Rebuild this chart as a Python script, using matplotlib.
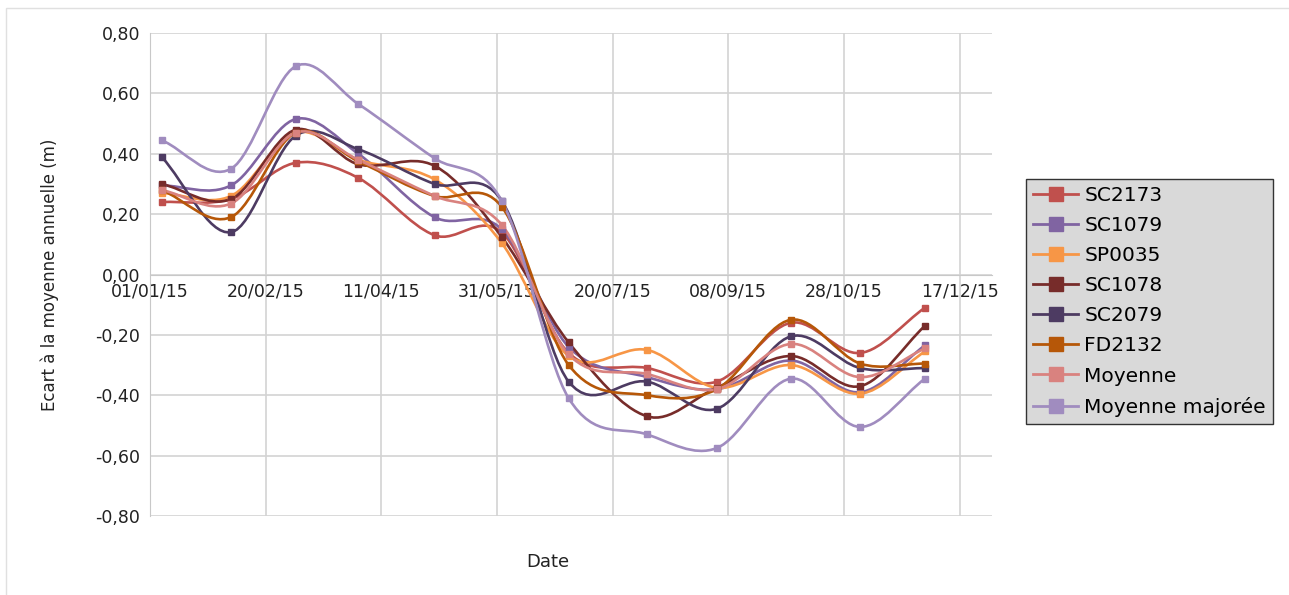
import numpy as np
import matplotlib
matplotlib.use("Agg")
import matplotlib.pyplot as plt
import matplotlib.dates as mdates
from matplotlib.path import Path
from matplotlib.patches import PathPatch, Rectangle
from matplotlib.lines import Line2D
from matplotlib.ticker import FuncFormatter

plt.rcParams['font.family'] = ['DejaVu Sans']

# Measurement dates
dates = np.array(['2015-01-06', '2015-02-05', '2015-03-05', '2015-04-01',
                  '2015-05-04', '2015-06-02', '2015-07-01', '2015-08-04',
                  '2015-09-03', '2015-10-05', '2015-11-04', '2015-12-02'],
                 dtype='datetime64[D]')

# Deviation from the annual mean (m), one list per well
sc2173 = [0.24, 0.25, 0.37, 0.32, 0.13, 0.14, -0.26, -0.31, -0.355, -0.16, -0.26, -0.11]
sc1079 = [0.295, 0.295, 0.515, 0.40, 0.19, 0.15, -0.24, -0.34, -0.38, -0.285, -0.39, -0.235]
sp0035 = [0.27, 0.26, 0.47, 0.38, 0.315, 0.105, -0.27, -0.25, -0.375, -0.30, -0.395, -0.255]
sc1078 = [0.30, 0.25, 0.48, 0.365, 0.36, 0.125, -0.225, -0.47, -0.375, -0.27, -0.37, -0.17]
sc2079 = [0.39, 0.14, 0.46, 0.415, 0.30, 0.245, -0.355, -0.355, -0.445, -0.205, -0.31, -0.31]
fd2132 = [0.28, 0.19, 0.47, 0.375, 0.26, 0.225, -0.30, -0.40, -0.38, -0.15, -0.295, -0.295]
moyenne = [0.28, 0.235, 0.47, 0.38, 0.26, 0.165, -0.265, -0.33, -0.38, -0.23, -0.34, -0.245]
moyenne_maj = [0.445, 0.35, 0.69, 0.565, 0.385, 0.245, -0.41, -0.53, -0.575, -0.345, -0.505, -0.345]

names = ['SC2173', 'SC1079', 'SP0035', 'SC1078', 'SC2079', 'FD2132',
         'Moyenne', 'Moyenne majorée']
series = [sc2173, sc1079, sp0035, sc1078, sc2079, fd2132, moyenne, moyenne_maj]
colors = ['#c0504d', '#8064a2', '#f79646', '#772c2a', '#4d3b62', '#b65708',
          '#d9827f', '#a08cbf']


def smooth_path(x, y):
    # cubic Hermite segments drawn as Bezier curves (like the spline option in the sheet)
    x = np.asarray(x, float)
    y = np.asarray(y, float)
    m = np.empty_like(y)
    m[1:-1] = (y[2:] - y[:-2]) / (x[2:] - x[:-2])
    m[0] = (y[1] - y[0]) / (x[1] - x[0])
    m[-1] = (y[-1] - y[-2]) / (x[-1] - x[-2])
    verts = [(x[0], y[0])]
    codes = [Path.MOVETO]
    for i in range(len(x) - 1):
        h = x[i + 1] - x[i]
        verts += [(x[i] + h / 3, y[i] + m[i] * h / 3),
                  (x[i + 1] - h / 3, y[i + 1] - m[i + 1] * h / 3),
                  (x[i + 1], y[i + 1])]
        codes += [Path.CURVE4] * 3
    return Path(verts, codes)


fig = plt.figure(figsize=(12.89, 5.95), dpi=100)
ax = fig.add_axes([150 / 1289, 1 - 516 / 595, 842 / 1289, 483 / 595])

xnum = mdates.date2num(dates.astype('datetime64[s]').astype(object))
for vals, c in zip(series, colors):
    ax.add_patch(PathPatch(smooth_path(xnum, vals), fill=False, edgecolor=c,
                           lw=1.9, zorder=3))
    ax.plot(xnum, vals, linestyle='none', marker='s', ms=5, color=c, zorder=4)

x0 = mdates.date2num(np.datetime64('2015-01-01').astype(object))
ax.set_xlim(x0, x0 + 364)
ax.set_ylim(-0.8, 0.8)
ax.set_xticks([x0 + 50 * k for k in range(8)])
ax.xaxis.set_major_formatter(mdates.DateFormatter('%d/%m/%y'))
ax.set_yticks(np.arange(-0.8, 0.81, 0.2))
ax.yaxis.set_major_formatter(FuncFormatter(lambda v, p: f'{v:.2f}'.replace('.', ',').replace('-0,00', '0,00')))

ax.grid(True, color='#d3d3d3', lw=1.2, zorder=0)
for s in ['top', 'right']:
    ax.spines[s].set_visible(False)
ax.spines['bottom'].set_position(('data', 0))
ax.spines['bottom'].set_color('#c8c8c8')
ax.spines['left'].set_color('#c8c8c8')
ax.tick_params(axis='both', length=0, labelsize=12.5, colors='#222222')
ax.tick_params(axis='x', pad=6)
ax.tick_params(axis='y', pad=7)

ax.set_ylabel('Ecart à la moyenne annuelle (m)', fontsize=12, color='#222222')
ax.yaxis.set_label_coords(-0.108, 0.5)
fig.text(548 / 1289, 1 - 562 / 595, 'Date', fontsize=13, color='#222222',
         ha='center', va='center')

handles = [Line2D([], [], color=c, lw=2, marker='s', ms=9.5) for c in colors]
leg = fig.legend(handles, names, loc='upper left',
                 bbox_to_anchor=(1026 / 1289, 1 - 179 / 595),
                 fontsize=14.5, frameon=True, fancybox=False,
                 handlelength=2.25, handletextpad=0.3, labelspacing=0.55,
                 borderpad=0.35, borderaxespad=0)
leg.get_frame().set_facecolor('#d9d9d9')
leg.get_frame().set_edgecolor('#333333')
leg.get_frame().set_linewidth(1.0)
leg.get_frame().set_alpha(1)

# faint outer frame of the chart area
fig.patches.append(Rectangle((6 / 1289, -0.05), 1.2, 1 - 8 / 595 + 0.05,
                             transform=fig.transFigure, fill=False,
                             edgecolor='#e0e0e0', lw=1.0))

fig.savefig('out.png', dpi=100)
